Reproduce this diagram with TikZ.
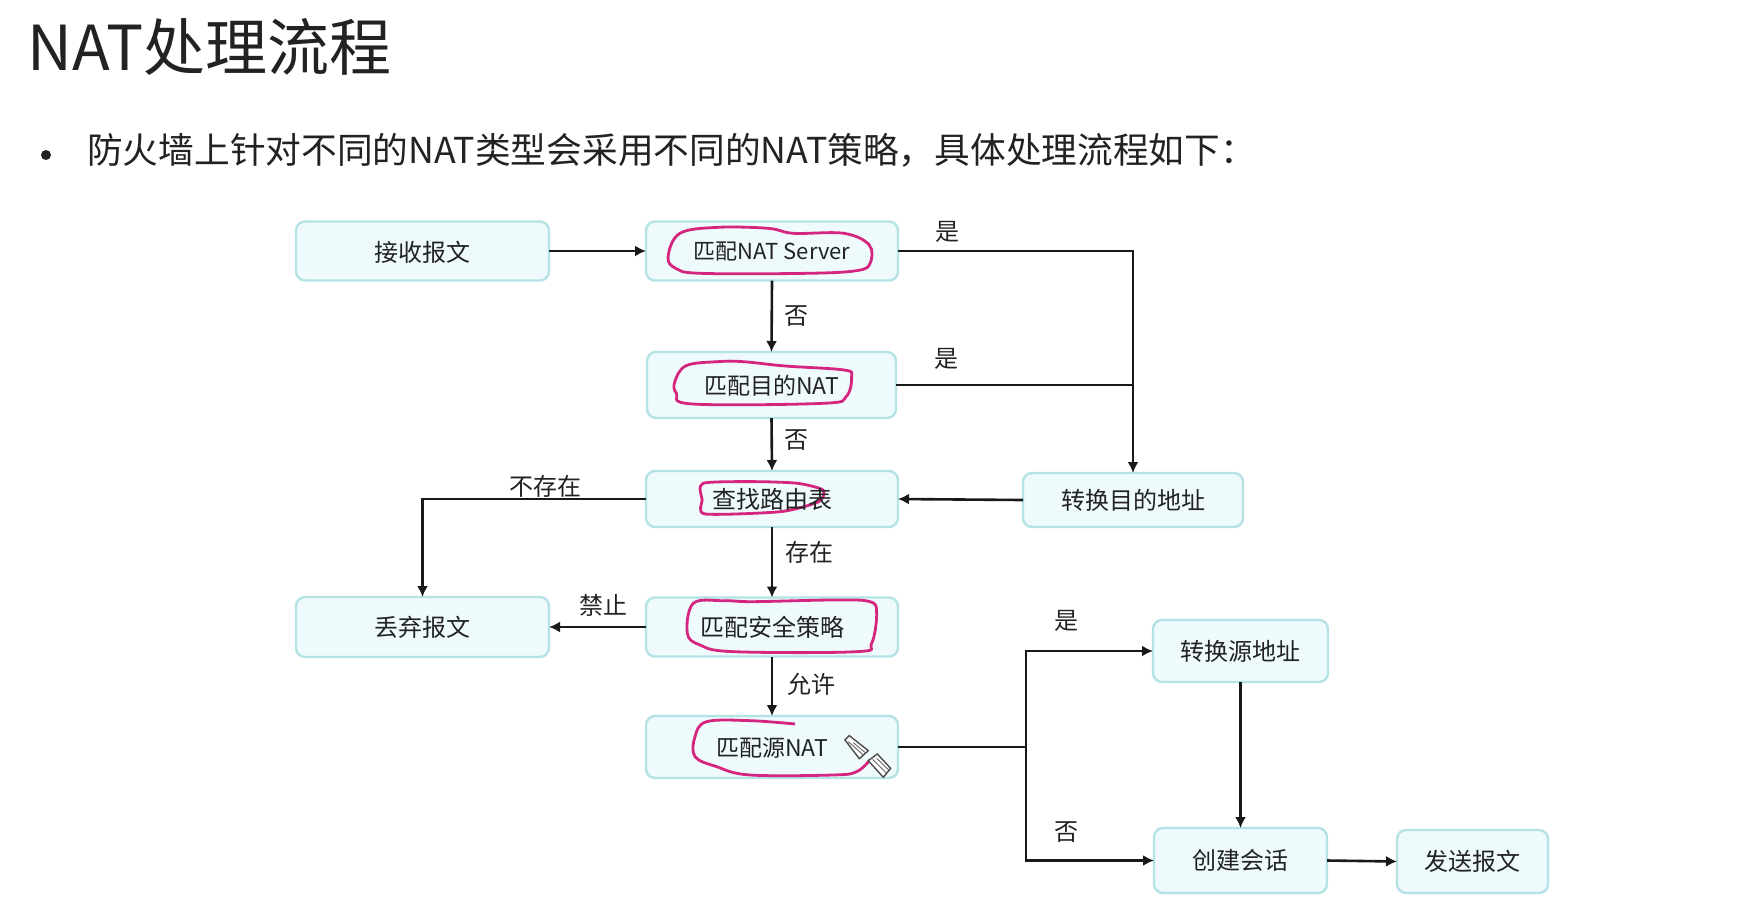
\documentclass[tikz,border=0pt]{standalone}
\usepackage{fontspec}
\setmainfont{Noto Sans CJK SC}
\usetikzlibrary{arrows.meta}
\definecolor{boxfill}{HTML}{EFFAFC}
\definecolor{boxline}{HTML}{B4E3E6}
\definecolor{ink}{HTML}{222222}
\definecolor{pen}{HTML}{D5267F}
\tikzset{
  x=1pt,y=-1pt,
  flowbox/.style={draw=boxline,fill=boxfill,line width=2.4pt,rounded corners=9pt,inner sep=0pt,outer sep=0pt,text=ink,font=\fontsize{24}{28}\selectfont},
  conn/.style={draw=black!90,line width=2.6pt,-{Latex[length=11pt,width=11pt]}},
  plain/.style={draw=black!90,line width=2.6pt},
  lbl/.style={inner sep=0pt,text=ink,font=\fontsize{24}{28}\selectfont},
  scribble/.style={draw=pen,line width=2.8pt,line join=round},
  zoomA/.style={shift={(280,200)},x=0.4209pt,y=-0.3333pt},
  zoomB/.style={shift={(600,570)},x=0.3333pt,y=-0.3333pt},
  pencil/.style={draw=black!70,fill=white,line width=1.4pt},
  pencilline/.style={draw=black!60,line width=0.9pt},
}
\begin{document}
\begin{tikzpicture}
\path[use as bounding box,fill=white] (0,0) rectangle (1739,906);

\node[anchor=west,inner sep=0pt,text=ink,font=\fontsize{62}{66}\selectfont] (title) at (27,47) {NAT处理流程};
\node[circle,fill=ink,inner sep=0pt,minimum size=10pt] (bullet) at (46,155) {};
\node[anchor=west,inner sep=0pt,text=ink,font=\fontsize{35.7}{40}\selectfont] (intro) at (87,150) {防火墙上针对不同的NAT类型会采用不同的NAT策略，具体处理流程如下：};

\node[flowbox,minimum width=253pt,minimum height=59pt] (recv) at (422.5,251) {};
\node[flowbox,minimum width=252pt,minimum height=59pt] (server) at (772,251) {};
\node[flowbox,minimum width=249pt,minimum height=66pt] (dnat) at (771.5,385) {};
\node[flowbox,minimum width=252pt,minimum height=56pt] (route) at (772,499) {};
\node[flowbox,minimum width=220pt,minimum height=54pt] (xdst) at (1133,500) {};
\node[flowbox,minimum width=253pt,minimum height=60pt] (drop) at (422.5,627) {};
\node[flowbox,minimum width=252pt,minimum height=59pt] (policy) at (772,627) {};
\node[flowbox,minimum width=252pt,minimum height=62pt] (snat) at (772,747) {};
\node[flowbox,minimum width=175pt,minimum height=62pt] (xsrc) at (1240.5,651) {};
\node[flowbox,minimum width=173pt,minimum height=65pt] (sess) at (1240.5,860.5) {};
\node[flowbox,minimum width=151pt,minimum height=63pt] (send) at (1472.5,861.5) {};

% pen annotations
\begin{scope}[zoomA]
\draw[scribble] plot[smooth cycle,tension=0.6] coordinates {(922,170)(950,100)(1040,82)(1160,85)(1220,100)(1340,100)(1400,135)(1402,190)(1370,212)(1250,220)(1000,220)(940,205)};
\draw[scribble] plot[smooth cycle,tension=0.6] coordinates {(938,545)(965,497)(1040,485)(1100,485)(1200,498)(1340,510)(1358,530)(1345,590)(1290,610)(980,612)(942,580)};
\draw[scribble] plot[smooth cycle,tension=0.4] coordinates {(1005,850)(1130,845)(1230,850)(1290,870)(1280,905)(1190,935)(1010,942)(1003,900)};
\end{scope}
\begin{scope}[zoomB]
\draw[scribble] plot[smooth cycle,tension=0.6] coordinates {(262,190)(280,100)(370,92)(460,95)(700,90)(810,95)(830,130)(815,220)(770,245)(400,245)(300,225)};
\draw[scribble] plot[smooth,tension=0.6] coordinates {(585,462)(450,452)(320,455)(285,500)(285,560)(350,590)(450,615)(700,615)(770,605)(810,570)};
\draw[pencil] (735,510)--(748,497)--(805,542)--(778,566)--cycle;
\draw[pencilline] (745,515)--(790,555);
\draw[pencilline] (760,518)--(798,550);
\draw[pencil] (805,572)--(832,552)--(872,595)--(850,622)--cycle;
\draw[pencilline] (818,568)--(858,608);
\draw[pencilline] (830,565)--(866,600);
\end{scope}

\node[lbl,yshift=-1pt] (recvt) at (recv) {接收报文};
\node[lbl,yshift=-1pt,font=\fontsize{22}{26}\selectfont] (servert) at (server) {匹配NAT Server};
\node[lbl,yshift=-1pt,font=\fontsize{23}{26}\selectfont] (dnatt) at (dnat) {匹配目的NAT};
\node[lbl] (routet) at (route) {查找路由表};
\node[lbl] (xdstt) at (xdst) {转换目的地址};
\node[lbl] (dropt) at (drop) {丢弃报文};
\node[lbl] (policyt) at (policy) {匹配安全策略};
\node[lbl,yshift=-1pt,font=\fontsize{23}{26}\selectfont] (snatt) at (snat) {匹配源NAT};
\node[lbl] (xsrct) at (xsrc) {转换源地址};
\node[lbl] (sesst) at (sess) {创建会话};
\node[lbl] (sendt) at (send) {发送报文};

\coordinate (dmerge) at (1133,385);
\coordinate (ssplit) at (1026,747);

\draw[conn] (recv.east) -- (server.west);
\draw[conn] (server.south) -- (dnat.north);
\draw[conn] (dnat.south) -- (route.north);
\draw[conn] (route.south) -- (policy.north);
\draw[conn] (policy.south) -- (snat.north);
\draw[conn] (server.east) -| (xdst.north);
\draw[plain] (dnat.east) -- (dmerge);
\draw[conn] (xdst.west) -- (route.east);
\draw[conn] (route.west) -| (drop.north);
\draw[conn] (policy.west) -- (drop.east);
\draw[plain] (snat.east) -- (ssplit);
\draw[conn] (ssplit) |- (xsrc.west);
\draw[conn] (ssplit) |- (sess.west);
\draw[conn] (xsrc.south) -- (sess.north);
\draw[conn] (sess.east) -- (send.west);

\node[lbl] (l1) at (947,232) {是};
\node[lbl] (l2) at (946,359) {是};
\node[lbl] (l3) at (796,316) {否};
\node[lbl] (l4) at (796,440) {否};
\node[lbl] (l5) at (545,486) {不存在};
\node[lbl] (l6) at (809,552) {存在};
\node[lbl] (l7) at (603,605) {禁止};
\node[lbl] (l8) at (811,684) {允许};
\node[lbl] (l9) at (1066,621) {是};
\node[lbl] (l10) at (1066,832) {否};
\end{tikzpicture}
\end{document}
